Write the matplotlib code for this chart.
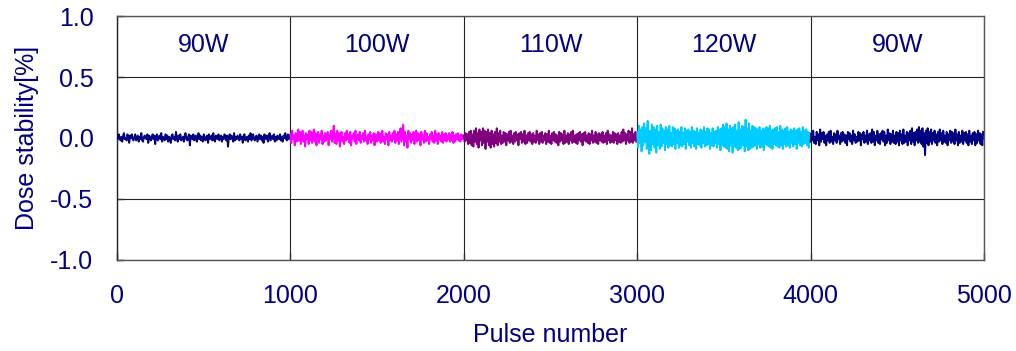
import numpy as np
import matplotlib
matplotlib.use("Agg")
import matplotlib.pyplot as plt

plt.rcParams['font.family'] = ['Liberation Sans', 'DejaVu Sans']

segment_labels = ["90W", "100W", "110W", "120W", "90W"]
segment_colors = ["#000080", "#FF00FF", "#800080", "#00CCFF", "#000080"]

# dose stability readings, in hundredths of a percent
seg_90w_a = [2,-1,3,0,-2,1,-3,2,4,-1,0,-2,3,1,-4,2,0,3,-1,-2,
    1,3,-2,0,2,-3,1,-1,4,-2,-3,1,2,0,-1,3,-4,2,1,-2,
    0,3,-1,2,-5,1,3,-2,0,2,-1,4,-3,1,0,-2,3,-1,2,-3,
    1,0,-4,2,3,-1,1,-2,5,0,-3,2,-1,3,-2,0,1,-3,2,4,
    -1,-2,1,3,-6,2,0,-1,3,-2,1,2,-3,0,4,-1,2,-2,1,-3,
    3,0,-2,1,2,-4,3,-1,0,2,-2,4,-1,-3,2,1,-1,3,-2,0,
    2,-3,1,-1,3,0,-2,2,-7,1,3,-1,2,0,-3,4,-2,1,-1,2,
    0,-2,3,-1,1,-4,2,3,-2,0,1,-3,2,-1,4,-2,0,3,-1,-2,
    1,2,-3,0,3,-1,2,-2,1,-4,3,0,-1,2,-3,1,4,-2,0,2,
    -1,3,-3,1,-2,2,0,-1,3,-2,1,-3,2,0,4,-1,-2,3,-1,2]

seg_100w = [3,-4,6,-1,2,-6,4,0,-3,7,-2,5,-5,1,6,-3,2,-7,4,-1,
    3,-5,6,-2,5,-4,1,7,-3,4,-6,2,5,-4,3,-1,6,-5,2,-3,
    4,-2,1,5,-6,3,-1,6,-3,2,10,-4,3,-5,6,-2,4,-7,2,5,
    -3,1,-5,4,-2,6,-1,3,-4,5,-6,2,0,4,-3,6,-5,1,3,-2,
    5,-4,2,-1,4,-3,6,-2,1,-5,3,-1,5,-4,2,-2,4,-6,3,1,
    -3,5,-2,4,-4,2,6,-3,1,-5,4,-1,3,-6,5,-2,2,-3,4,-1,
    6,-4,3,-2,5,-5,2,8,-3,4,11,-6,5,-3,2,-8,6,-1,4,-4,
    3,-2,5,-5,1,6,-3,4,-2,3,-6,5,-1,2,-4,6,-3,4,-2,1,
    -5,3,-1,5,-3,2,-4,6,-2,3,-5,4,-1,2,-3,5,-4,3,-2,4,
    -3,2,-1,4,-3,3,-2,5,-4,2,-3,3,-1,4,-2,2,-3,3,-1,2]

seg_110w = [2,-3,4,-2,3,-5,5,-4,6,-6,3,-7,6,-3,8,-5,4,-8,7,-2,
    5,-6,8,-4,6,-9,5,-3,7,-6,4,-8,6,-5,3,-7,5,-4,8,-6,
    4,-3,6,-5,2,-4,5,-3,4,-6,3,-2,5,-4,6,-3,2,-5,4,-3,
    5,-2,3,-6,4,-1,5,-4,3,-3,6,-5,2,-4,4,-2,5,-3,3,-5,
    4,-3,2,-4,6,-2,3,-5,4,-3,5,-4,2,-2,4,-5,3,-3,6,-4,
    2,-5,4,-2,5,-3,3,-4,2,-6,5,-3,4,-2,3,-5,6,-4,2,-3,
    4,-5,3,-2,5,-4,6,-3,2,-4,3,-5,4,-2,5,-3,3,-6,4,-2,
    5,-3,2,-4,4,-5,3,-2,6,-4,2,-3,5,-4,3,-5,4,-2,3,-3,
    5,-4,2,-3,4,-5,6,-2,3,-4,2,-3,5,-4,4,-2,3,-5,4,-3,
    2,-4,5,-3,7,-2,4,-5,3,-2,6,-4,5,-3,8,-4,3,-2,5,-3]

seg_120w = [5,-8,10,-4,7,-11,9,-6,12,-3,8,-9,14,-7,-13,6,-10,11,-5,9,
    -8,7,-12,10,-6,5,-9,11,-7,8,-4,6,-10,9,-5,7,-8,10,-6,4,
    -7,9,-5,8,-9,6,-4,7,-8,5,-6,9,-7,4,-5,8,-9,6,-3,7,
    -6,5,-8,9,-4,6,-7,5,-9,8,-5,4,-6,7,-8,6,-4,9,-7,5,
    -6,8,-5,7,-9,4,-6,8,-7,5,-4,6,-8,9,-5,7,-10,8,-6,11,
    -7,9,-8,12,-9,7,-11,10,-6,8,-12,9,-7,11,-8,6,-10,13,-9,7,
    -8,10,-6,9,-11,15,-7,8,-10,12,-9,6,-8,10,-7,9,-6,8,-9,7,
    -5,9,-8,6,-7,8,-10,7,-5,9,-6,8,-7,10,-8,6,-9,7,-5,8,
    -6,9,-7,5,-8,10,-6,7,-9,6,-5,8,-7,9,-6,5,-8,7,-4,6,
    -7,8,-5,6,-9,7,-4,8,-6,5,-7,9,-5,6,-4,7,-6,5,-8,4]

seg_90w_b = [-3,4,-2,6,-4,1,-5,5,-2,3,-6,7,-3,4,-1,5,-4,2,-6,3,
    -2,5,-4,6,-3,1,-5,4,-2,3,-4,6,-1,2,-5,4,-3,5,-2,3,
    -4,2,-6,5,-1,4,-3,2,-5,6,-2,3,-4,1,-3,5,-2,4,-6,3,
    -1,5,-4,2,-3,6,-5,3,-2,4,-4,7,-3,5,-6,2,-2,6,-4,3,
    -5,4,-1,6,-3,5,-6,2,-4,7,-2,4,-5,3,-3,6,-4,2,-5,5,
    -3,4,-6,6,-2,3,-5,7,-4,2,-3,5,-6,4,-2,6,-5,8,-3,4,
    -6,5,-2,7,-4,9,-3,6,-5,8,-7,4,-14,6,-4,8,-6,5,-3,7,
    -5,4,-2,6,-4,3,-6,5,-3,7,-2,4,-5,6,-3,2,-4,5,-6,3,
    -2,6,-4,5,-3,4,-5,7,-2,3,-6,5,-4,2,-3,6,-5,4,-2,5,
    -4,3,-6,6,-3,2,-5,4,-2,5,-6,3,-4,6,-2,4,-5,3,-6,5]

segments = [seg_90w_a, seg_100w, seg_110w, seg_120w, seg_90w_b]
segment_starts = [0, 1000, 2000, 3000, 4000]
segment_length = 1000

x_ticks = [0, 1000, 2000, 3000, 4000, 5000]
y_ticks = [-1.0, -0.5, 0.0, 0.5, 1.0]

navy = "#000080"
fs = 18
fig = plt.figure(figsize=(10.16, 3.51), dpi=100)
ax = fig.add_axes([0.1152, 0.2593, 0.8533, 0.6951])

for vals, start, col in zip(segments, segment_starts, segment_colors):
    n = len(vals)
    xs = start + np.arange(n) * (segment_length / n)
    ys = np.array(vals) / 100.0
    ax.plot(xs, ys, color=col, lw=1.4, zorder=3)

for s, lab in zip(segment_starts, segment_labels):
    ax.text(s + segment_length / 2, 0.76, lab, ha='center', va='center',
            color=navy, fontsize=fs)

ax.set_xlim(0, 5000)
ax.set_ylim(-1, 1)
ax.set_xticks(x_ticks)
ax.set_yticks(y_ticks)
ax.set_yticklabels([f"{v:.1f}" for v in y_ticks])
ax.tick_params(direction='in', length=5, width=1, colors='#333333',
               labelcolor=navy, labelsize=fs, pad=17)
ax.grid(True, color='#222222', lw=0.8, zorder=1)
for sp in ax.spines.values():
    sp.set_color('#555555')
    sp.set_linewidth(1)
ax.spines['left'].set_color('#222222')

ax.set_xlabel("Pulse number", color=navy, fontsize=fs, labelpad=11)
ax.set_ylabel("Dose stability[%]", color=navy, fontsize=fs, labelpad=8)

fig.savefig("out.png", dpi=100)
